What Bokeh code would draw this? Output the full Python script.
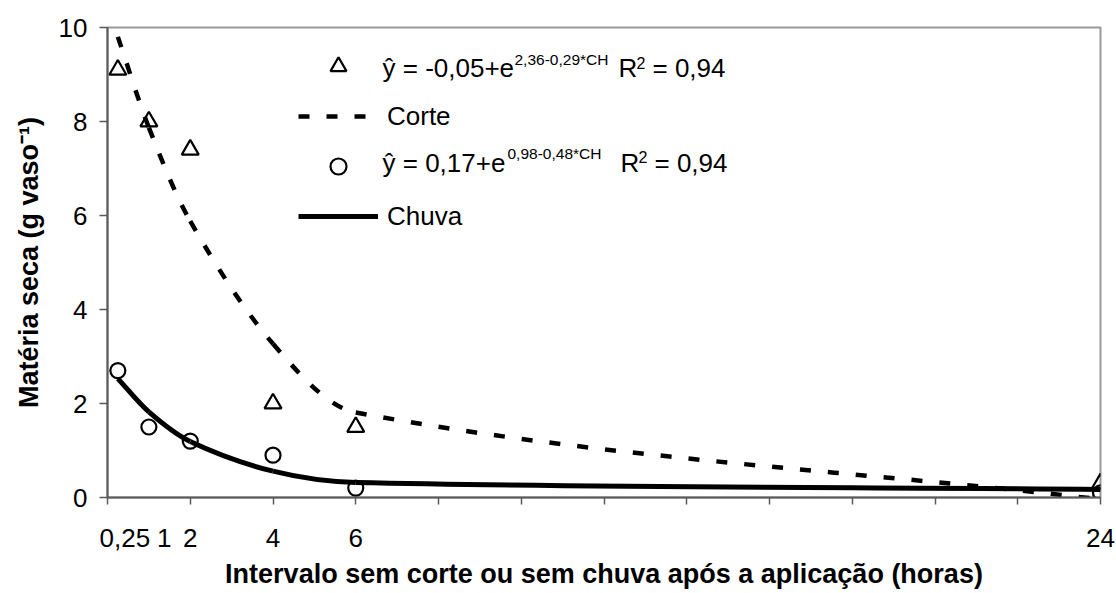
import numpy as np
from bokeh.plotting import figure
from bokeh.models import Range1d, FixedTicker, Legend, LegendItem, Label
from bokeh.embed import file_html
from bokeh.resources import INLINE

# ---- data ----
hours = [0.25, 1, 2, 4, 6, 24]
x_tick_labels = ["0,25", "1", "2", "4", "6", "24"]
y_ticks = [0, 2, 4, 6, 8, 10]
corte_obs = [9.1, 8.0, 7.4, 2.0, 1.5, 0.3]
chuva_obs = [2.7, 1.5, 1.2, 0.9, 0.2, 0.1]
corte_fit = [9.80, 7.87, 5.88, 3.27, 1.81, -0.04]
chuva_fit = [2.53, 1.82, 1.19, 0.56, 0.32, 0.17]

# ---- layout ----
# tick-label anchor positions (the first two labels are nudged apart, as in the source)
x_label_pos = [0.42, 1.37, 2, 4, 6, 24]
x_minor_ticks = list(range(0, 25, 2))

FONT = "Liberation Sans"
W, H = 1116, 593
LEFT, RIGHT, TOP, BOTTOM = 107, 16, 27, 96
X0, X1, Y0, Y1 = 0, 24, 0, 10
FW = W - LEFT - RIGHT
FH = H - TOP - BOTTOM


def px2x(px):
    return X0 + (px - LEFT) * (X1 - X0) / FW


def py2y(py):
    return Y0 + (TOP + FH - py) * (Y1 - Y0) / FH


def smooth(xs, ys):
    """Bezier pieces of a smooth curve through the given points."""
    n = len(xs)
    m = []
    for i in range(n):
        a = max(i - 1, 0)
        b = min(i + 1, n - 1)
        m.append((ys[b] - ys[a]) / (xs[b] - xs[a]))
    d = dict(x0=[], y0=[], x1=[], y1=[], cx0=[], cy0=[], cx1=[], cy1=[])
    for i in range(n - 1):
        dx = xs[i + 1] - xs[i]
        d["x0"].append(xs[i]); d["y0"].append(ys[i])
        d["x1"].append(xs[i + 1]); d["y1"].append(ys[i + 1])
        d["cx0"].append(xs[i] + dx / 3)
        d["cy0"].append(ys[i] + m[i] * dx / 3)
        d["cx1"].append(xs[i + 1] - dx / 3)
        d["cy1"].append(ys[i + 1] - m[i + 1] * dx / 3)
    return d


p = figure(width=W, height=H, x_range=Range1d(X0, X1), y_range=Range1d(Y0, Y1),
           output_backend="svg", toolbar_location=None, title=None,
           min_border_left=LEFT, min_border_right=RIGHT,
           min_border_top=TOP, min_border_bottom=BOTTOM)
p.grid.visible = False
p.outline_line_color = "#999999"
p.outline_line_width = 2
p.background_fill_color = "white"
p.border_fill_color = "white"

# x axis
p.xaxis.ticker = FixedTicker(ticks=x_label_pos, minor_ticks=x_minor_ticks)
p.xaxis.major_label_overrides = {h: t for h, t in zip(x_label_pos, x_tick_labels)}
p.xaxis.major_tick_out = 0
p.xaxis.major_tick_in = 0
p.xaxis.minor_tick_out = 7
p.xaxis.minor_tick_in = 0
p.xaxis.major_label_standoff = 24
p.xaxis.axis_label = "Intervalo sem corte ou sem chuva após a aplicação (horas)"
p.xaxis.axis_label_standoff = 9

# y axis
p.yaxis.ticker = FixedTicker(ticks=y_ticks, minor_ticks=[])
p.yaxis.major_tick_out = 8
p.yaxis.major_tick_in = 0
p.yaxis.minor_tick_out = 0
p.yaxis.minor_tick_in = 0
p.yaxis.major_label_standoff = 12
p.yaxis.axis_label = "Matéria seca (g vaso⁻¹)"
p.yaxis.axis_label_standoff = 12

for ax in (p.xaxis, p.yaxis):
    ax.axis_line_color = "#5a5a5a"
    ax.axis_line_width = 2
    ax.major_tick_line_color = "#5a5a5a"
    ax.minor_tick_line_color = "#5a5a5a"
    ax.major_tick_line_width = 1.5
    ax.minor_tick_line_width = 1.5
    ax.major_label_text_font = FONT
    ax.major_label_text_font_size = "26px"
    ax.major_label_text_color = "black"
    ax.axis_label_text_font = FONT
    ax.axis_label_text_font_size = "27px"
    ax.axis_label_text_font_style = "bold"
    ax.axis_label_text_color = "black"

# fitted curves
r_corte = p.bezier(source=smooth(hours, corte_fit), x0="x0", y0="y0", x1="x1", y1="y1",
                   cx0="cx0", cy0="cy0", cx1="cx1", cy1="cy1",
                   line_color="black", line_width=4.5, line_dash="11 17")
r_chuva = p.bezier(source=smooth(hours, chuva_fit), x0="x0", y0="y0", x1="x1", y1="y1",
                   cx0="cx0", cy0="cy0", cx1="cx1", cy1="cy1",
                   line_color="black", line_width=5)

# observed points
r_tri = p.scatter(hours, corte_obs, marker="triangle", size=17, fill_color="white",
                  fill_alpha=0, line_color="black", line_width=2.2)
r_circ = p.scatter(hours, chuva_obs, marker="circle", size=15, fill_color="white",
                   fill_alpha=0, line_color="black", line_width=2.2)

legend = Legend(items=[
    LegendItem(label=" ", renderers=[r_tri]),
    LegendItem(label="Corte", renderers=[r_corte]),
    LegendItem(label=" ", renderers=[r_circ]),
    LegendItem(label="Chuva", renderers=[r_chuva]),
], location=(298 - LEFT, 261), orientation="vertical",
    glyph_width=80, glyph_height=40, label_height=40, spacing=10,
    label_standoff=9, padding=0, margin=0,
    border_line_alpha=0, background_fill_alpha=0,
    label_text_font=FONT, label_text_font_size="26px", label_text_color="black")
p.add_layout(legend, "center")


def lab(px, py, text, size):
    p.add_layout(Label(x=px2x(px), y=py2y(py), x_units="data", y_units="data",
                       text=text, text_font=FONT, text_font_size=size,
                       text_color="black", text_align="left",
                       text_baseline="middle"))


# equation of Corte
lab(382, 67.5, "ŷ = -0,05+e", "26px")
lab(514, 59, "2,36-0,29*CH", "15.5px")
lab(618, 67.5, "R", "26px")
lab(636, 62, "2", "16px")
lab(652, 67.5, "= 0,94", "26px")
# equation of Chuva
lab(382, 162, "ŷ = 0,17+e", "26px")
lab(507, 153, "0,98-0,48*CH", "15.5px")
lab(620, 162, "R", "26px")
lab(638, 156.5, "2", "16px")
lab(654, 162, "= 0,94", "26px")

open("out.html", "w").write(file_html(p, INLINE))
